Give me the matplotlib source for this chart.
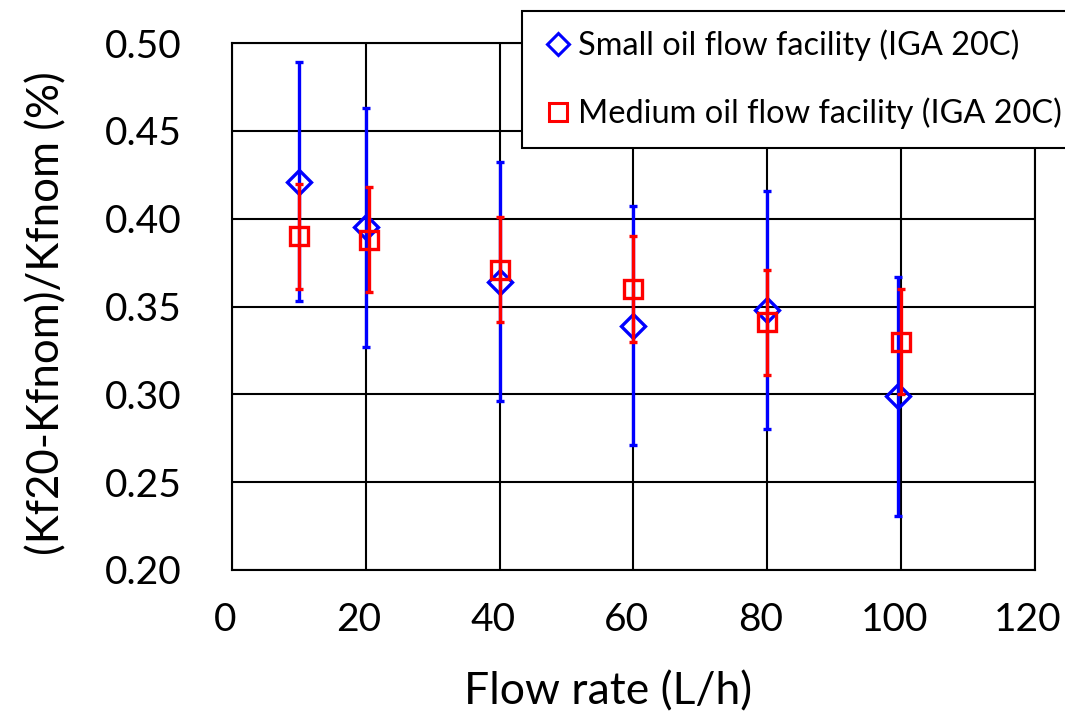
import numpy as np
import matplotlib
matplotlib.use('Agg')
from matplotlib import pyplot as plt
from matplotlib.lines import Line2D
import matplotlib.transforms as mtransforms

plt.rcParams['font.family'] = ['Lato', 'DejaVu Sans']

# small oil flow facility (IGA 20C)
small_x = [10, 20, 40, 60, 80, 99.5]
small_y = [0.421, 0.395, 0.364, 0.339, 0.348, 0.299]
small_err = [0.068, 0.068, 0.068, 0.068, 0.068, 0.068]

# medium oil flow facility (IGA 20C)
medium_x = [10, 20.5, 40, 60, 80, 100]
medium_y = [0.390, 0.388, 0.371, 0.360, 0.341, 0.330]
medium_err = [0.030, 0.030, 0.030, 0.030, 0.030, 0.030]

x_ticks = [0, 20, 40, 60, 80, 100, 120]
y_ticks = [0.20, 0.25, 0.30, 0.35, 0.40, 0.45, 0.50]

fig = plt.figure(figsize=(10.65, 7.14), dpi=100)
ax = fig.add_axes([0.2178, 0.2017, 0.754, 0.738])

ax.errorbar(small_x, small_y, yerr=small_err, fmt='D', color='#0000ff',
            mfc='none', mec='#0000ff', mew=2.4, ms=12, elinewidth=2.4,
            capsize=3, capthick=2.4, zorder=3)
ax.errorbar(medium_x, medium_y, yerr=medium_err, fmt='s', color='#ff0000',
            mfc='none', mec='#ff0000', mew=2.4, ms=13.5, elinewidth=2.4,
            capsize=3, capthick=2.4, zorder=4)

ax.set_xlim(0, 120)
ax.set_ylim(0.20, 0.50)
ax.set_xticks(x_ticks)
ax.set_yticks(y_ticks)
ax.set_yticklabels(['%.2f' % v for v in y_ticks])
ax.tick_params(length=0, labelsize=28)
ax.tick_params(axis='x', pad=23)
ax.tick_params(axis='y', pad=36)
# excel puts the x labels a little left of the gridlines
shift = mtransforms.ScaledTranslation(-0.07, 0, fig.dpi_scale_trans)
for lab in ax.get_xticklabels():
    lab.set_transform(lab.get_transform() + shift)

ax.grid(True, color='black', linewidth=1.5)
ax.set_axisbelow(True)
for s in ax.spines.values():
    s.set_linewidth(1.5)

ax.set_xlabel('Flow rate (L/h)', fontsize=32, va='center')
ax.xaxis.set_label_coords(0.468, -0.2315)
ax.set_ylabel('(Kf20-Kfnom)/Kfnom (%)', fontsize=31.5, va='center')
ax.yaxis.set_label_coords(-0.2304, 0.4877)

handles = [Line2D([], [], ls='none', marker='D', ms=11, mfc='none', mec='#0000ff', mew=2.2),
           Line2D([], [], ls='none', marker='s', ms=13.5, mfc='none', mec='#ff0000', mew=2.2)]
leg = fig.legend(handles, ['Small oil flow facility (IGA 20C)', 'Medium oil flow facility (IGA 20C)'],
                 loc='upper left', bbox_to_anchor=(0.4898, 0.9846), fontsize=23.4,
                 handlelength=1.08, handletextpad=0.08, labelspacing=1.12,
                 borderpad=0.58, borderaxespad=0, fancybox=False, framealpha=1,
                 edgecolor='black')
leg.get_frame().set_linewidth(1.5)

plt.savefig('out.png', dpi=100)
